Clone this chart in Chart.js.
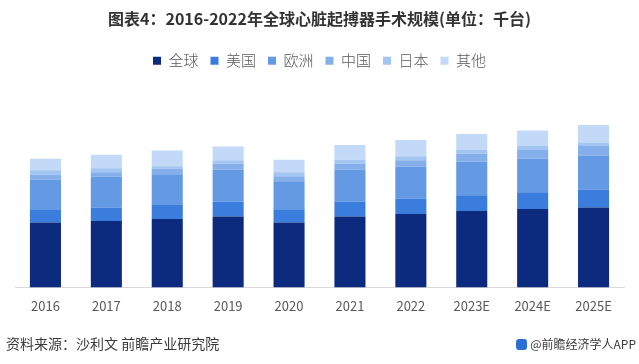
<!DOCTYPE html>
<html>
<head>
<meta charset="utf-8">
<script src="https://cdn.jsdelivr.net/npm/chart.js@4/dist/chart.umd.min.js"></script>
<style>
  html, body { margin: 0; padding: 0; background: #fff; }
  #wrap { position: relative; width: 639px; height: 364px; overflow: hidden; }
  canvas { position: absolute; left: 0; top: 0; }
  .foot { position: absolute; font-family: "Noto Sans CJK SC", "Noto Sans", sans-serif; color: #3a3a3a; white-space: nowrap; }
  #src { left: 6px; top: 333px; font-size: 14px; }
  #app { right: 3px; top: 335px; font-size: 12px; }
  #logo { display: inline-block; width: 11px; height: 11px; border-radius: 3px; background: #2b6fd6; vertical-align: -1px; margin-right: 3px; }
</style>
</head>
<body>
<div id="wrap">
  <canvas id="c" width="639" height="364"></canvas>
  <div class="foot" id="src">资料来源：沙利文 前瞻产业研究院</div>
  <div class="foot" id="app"><span id="logo"></span>@前瞻经济学人APP</div>
</div>
<script>
const categories = ["2016", "2017", "2018", "2019", "2020", "2021", "2022", "2023E", "2024E", "2025E"];
const seriesNames = ["全球", "美国", "欧洲", "中国", "日本", "其他"];
const global   = [645, 660, 680, 705, 645, 705, 730, 760, 780, 795];
const usa      = [125, 135, 140, 150, 125, 150, 155, 155, 165, 175];
const europe   = [300, 305, 305, 315, 285, 315, 315, 335, 335, 340];
const china    = [50, 45, 55, 60, 50, 60, 65, 80, 85, 95];
const japan    = [45, 40, 25, 35, 40, 40, 40, 35, 40, 35];
const others   = [115, 135, 155, 135, 125, 145, 160, 160, 155, 175];
const colors   = ["#0d2b7e", "#3b7ddd", "#6499e3", "#85afea", "#a3c5f1", "#c2daf7"];
const seriesData = [global, usa, europe, china, japan, others];

const FONT = '"Noto Sans CJK SC", "Noto Sans", sans-serif';

new Chart(document.getElementById('c'), {
  type: 'bar',
  data: {
    labels: categories,
    datasets: seriesNames.map((n, i) => ({
      label: n,
      data: seriesData[i],
      backgroundColor: colors[i],
      borderWidth: 0,
      barPercentage: 0.51,
      categoryPercentage: 1.0
    }))
  },
  options: {
    responsive: false,
    animation: false,
    devicePixelRatio: 1,
    layout: { padding: { left: 15, right: 15, top: 0, bottom: 47 } },
    plugins: {
      title: {
        display: true,
        text: '图表4：2016-2022年全球心脏起搏器手术规模(单位：千台)',
        color: '#333333',
        font: { family: FONT, size: 16, weight: 'bold' },
        padding: { top: 9, bottom: 13 }
      },
      legend: {
        display: true,
        position: 'top',
        labels: {
          boxWidth: 8,
          boxHeight: 8,
          padding: 12,
          color: '#595959',
          font: { family: FONT, size: 15, weight: '300' }
        }
      },
      tooltip: { enabled: false }
    },
    scales: {
      x: {
        stacked: true,
        grid: { display: false },
        border: { display: true, color: '#d9d9d9', width: 1 },
        ticks: { color: '#595959', font: { family: FONT, size: 13 }, padding: 3, maxRotation: 0 }
      },
      y: {
        stacked: true,
        display: false,
        min: 0,
        max: 2080
      }
    }
  }
});
</script>
</body>
</html>
